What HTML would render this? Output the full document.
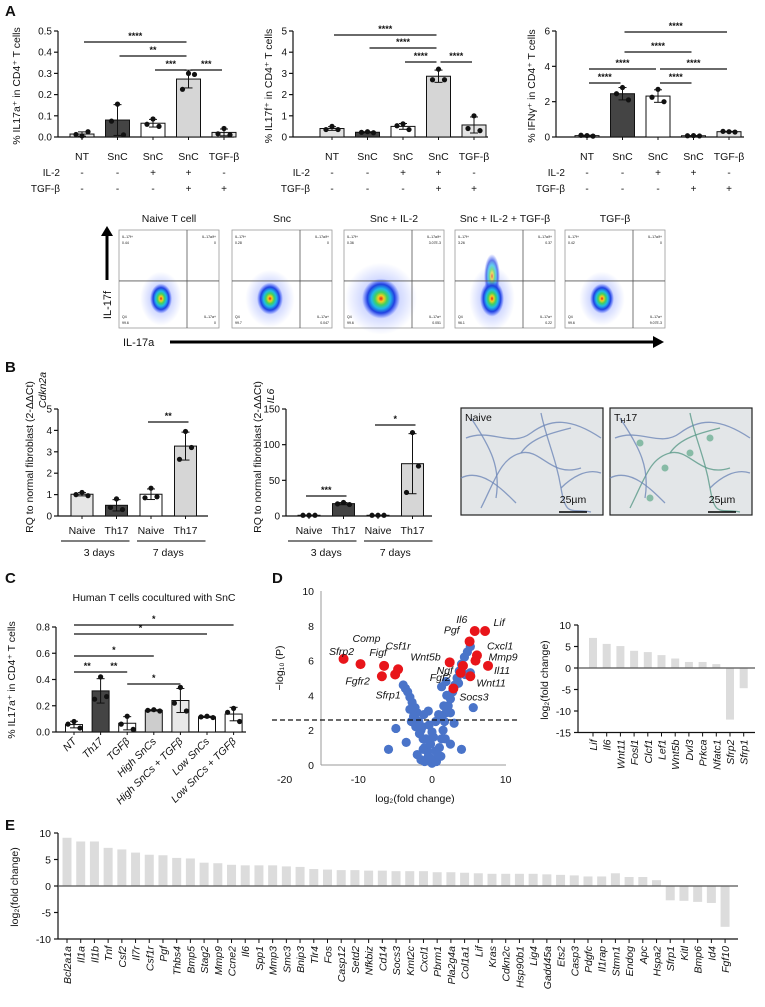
<!DOCTYPE html>
<html><head><meta charset="utf-8"><style>
body{margin:0;background:#fff}
svg{display:block;font-family:"Liberation Sans Narrow","Liberation Sans",sans-serif}
</style></head><body>
<svg id="fig" width="765" height="1007" viewBox="0 0 765 1007" xmlns="http://www.w3.org/2000/svg">
<defs>
<radialGradient id="blob"><stop offset="0" stop-color="#e0201a"/><stop offset="0.15" stop-color="#f5d020"/><stop offset="0.32" stop-color="#40d060"/><stop offset="0.5" stop-color="#20b8e8"/><stop offset="0.72" stop-color="#2040e0"/><stop offset="1" stop-color="#3050ff" stop-opacity="0"/></radialGradient>
<radialGradient id="halo"><stop offset="0" stop-color="#4060ff" stop-opacity="0.5"/><stop offset="1" stop-color="#4060ff" stop-opacity="0"/></radialGradient>
</defs>
<g id="root"></g>
</svg>
<script>
// ---------- DATA ----------
const catsA = ["NT","SnC","SnC","SnC","TGF-β"];
const il2Row = ["-","-","+","+","-"];
const tgfRow = ["-","-","-","+","+"];
const a1Reps = [[0.005,0.025,0.012],[0.155,0.01,0.075],[0.085,0.05,0.06],[0.3,0.295,0.225],[0.04,0.01,0.015]];
const a2Reps = [[0.5,0.35,0.35],[0.25,0.2,0.22],[0.62,0.35,0.53],[3.2,2.7,2.7],[1.0,0.3,0.4]];
const a3Reps = [[0.08,0.05,0.1],[2.8,2.1,2.45],[2.7,2.0,2.25],[0.08,0.06,0.07],[0.3,0.28,0.32]];
const a1Ticks = ["0.0","0.1","0.2","0.3","0.4","0.5"];
const a2Ticks = ["0","1","2","3","4","5"];
const a3Ticks = ["0","2","4","6"];
const a1Sig = [[0,3,"****"],[1,3,"**"],[2,3,"***"],[3,4,"***"]];
const a2Sig = [[0,3,"****"],[1,3,"****"],[2,3,"****"],[3,4,"****"]];
const a3Sig = [[1,4,"****"],[1,3,"****"],[0,2,"****"],[2,4,"****"],[0,1,"****"],[2,3,"****"]];
const flowTitles = ["Naive T cell","Snc","Snc + IL-2","Snc + IL-2 + TGF-β","TGF-β"];
const flowQ1 = ["0.44","0.28","0.36","3.26","0.42"];
const flowQ2 = ["0","0","3.07E-3","0.37","0"];
const flowQ3 = ["0","0.047","0.051","0.22","9.07E-3"];
const flowQ4 = ["99.6","99.7","99.6","96.1","99.6"];
const catsB = ["Naive","Th17","Naive","Th17"];
const b1Reps = [[1.1,0.95,1.0],[0.8,0.3,0.4],[1.3,0.9,0.85],[3.95,3.2,2.65]];
const b2Reps = [[1,1,1],[19,16,17],[1,1,1],[117,70,33]];
const b1Ticks = ["0","1","2","3","4","5"];
const b2Ticks = ["0","50","100","150"];
const b1Sig = [[2,3,"**"]];
const b2Sig = [[0,1,"***"],[2,3,"*"]];
const catsC = ["NT","Th17","TGFβ","High SnCs","High SnCs + TGFβ","Low SnCs","Low SnCs + TGFβ"];
const cReps = [[0.08,0.03,0.06],[0.42,0.27,0.25],[0.12,0.02,0.06],[0.17,0.16,0.165],[0.34,0.16,0.22],[0.12,0.11,0.115],[0.18,0.08,0.15]];
const cTicks = ["0.0","0.2","0.4","0.6","0.8"];
const cSig = [[0,6,"*"],[0,5,"*"],[0,3,"*"],[0,1,"**"],[1,2,"**"],[2,4,"*"]];
const volcFC = [-0.5,-1,-1.2,-1.5,-1.8,-2,-2.3,-2.7,-3,-3.3,-3.6,-3.9,-2.5,-1.7,-2.2,-3,-1.3,-0.8,-2.8,-5.9,-4.9,-3.5,-2,-1.5,-1,-0.6,-1.2,0,0.3,-0.3,0.5,-0.2,0.2,0.6,-0.4,0,0.5,-1.1,0.9,-0.5,1,1.3,1.5,1.7,1.9,2.2,2.5,2.8,3.1,3.4,3.7,4,4.4,4.8,5.2,2,1.6,1.3,2.5,3,4,5.6,1.8,1.2,0.8,2.5,3.6,4.5,5.2,1.3,1.9];
const volcP = [0.5,1,1.5,2,2.5,3,3.3,3.6,3.9,4.2,4.4,4.6,2.8,1.8,2.2,3.2,2.2,1.5,2.5,0.9,2.1,1.3,0.6,0.3,0.2,0.8,0.9,0.1,0.3,0.4,0.8,1.2,1.6,0.2,2.3,1.9,2.5,2.9,2.9,3.1,1,1.5,2,2.5,3,3.4,3.8,4.2,4.6,5,5.4,5.8,6.2,6.5,6.8,4,3.4,2.8,3,2.4,0.9,3.3,1.5,0.5,0.6,1.2,4.7,5.2,5.3,4.5,4.8];
const sigNames = ["Sfrp2","Comp","Figf","Fgfr2","Csf1r","Sfrp1","Wnt5b","Fgf2","Socs3","Ngf","Pgf","Il6","Lif","Cxcl1","Mmp9","Il11","Wnt11"];
const sigFC = [-12,-9.7,-6.5,-6.8,-4.6,-5,2.4,3.9,2.9,4.2,5.1,5.8,7.2,6.1,5.9,7.6,5.2];
const sigP = [6.1,5.8,5.7,5.1,5.5,5.2,5.9,5.3,4.4,5.7,7.1,7.7,7.7,6.3,6.0,5.7,5.1];
const volcXTicks = [-20,-10,0,10];
const volcYTicks = [0,2,4,6,8,10];
const dGenes = ["Lif","Il6","Wnt11","Fosl1","Clcf1","Lef1","Wnt5b","Dvl3","Prkca","Nfatc1","Sfrp2","Sfrp1"];
const dVals = [7,5.6,5.1,4.0,3.7,3.0,2.2,1.4,1.4,0.9,-12,-4.7];
const dTicks = [10,5,0,-5,-10,-15];
const eGenes = ["Bcl2a1a","Il1a","Il1b","Tnf","Csf2","Il7r","Csf1r","Pgf","Thbs4","Bmp5","Stag2","Mmp9","Ccne2","Il6","Spp1","Mmp3","Smc3","Bnip3","Tlr4","Fos","Casp12","Setd2","Nfkbiz","Cd14","Socs3","Kmt2c","Cxcl1","Pbrm1","Pla2g4a","Col1a1","Lif","Kras","Cdkn2c","Hsp90b1","Lig4","Gadd45a","Ets2","Casp3","Pdgfc","Il1rap","Stmn1","Endog","Apc","Hspa2","Sfrp1","Kitl","Bmp6","Id4","Fgf10"];
const eVals = [9.1,8.4,8.4,7.2,6.9,6.3,5.9,5.8,5.3,5.2,4.4,4.3,4.0,3.9,3.9,3.9,3.7,3.6,3.2,3.1,3.0,3.0,2.9,2.9,2.8,2.8,2.8,2.6,2.6,2.5,2.4,2.3,2.3,2.3,2.3,2.2,2.1,2.0,1.8,1.8,2.4,1.7,1.7,1.1,-2.7,-2.8,-3.0,-3.2,-7.7];
const eTicks = [10,5,0,-5,-10];

// ---------- HELPERS ----------
const NS="http://www.w3.org/2000/svg";
const root=document.getElementById('root');
function el(tag,attrs,parent,txt){const e=document.createElementNS(NS,tag);for(const k in attrs)e.setAttribute(k,attrs[k]);if(txt!==undefined)e.textContent=txt;(parent||root).appendChild(e);return e;}
function grp(name,parent){const g=el('g',{},parent);return g;}
function txt(g,x,y,s,size,opts){opts=opts||{};const t=el('text',{x:x,y:y,'font-size':size,'text-anchor':opts.anchor||'middle',fill:opts.fill||'#111'},g,s);if(opts.italic)t.setAttribute('font-style','italic');if(opts.bold)t.setAttribute('font-weight','bold');if(opts.rot!==undefined)t.setAttribute('transform','rotate('+opts.rot+' '+x+' '+y+')');if(opts.fam)t.setAttribute('font-family',opts.fam);return t;}
function line(g,x1,y1,x2,y2,w,c,dash){const l=el('line',{x1:x1,y1:y1,x2:x2,y2:y2,stroke:c||'#111','stroke-width':w||1},g);if(dash)l.setAttribute('stroke-dasharray',dash);return l;}
const mean=a=>a.reduce((s,v)=>s+v,0)/a.length;
const sd=a=>{const m=mean(a);return Math.sqrt(a.reduce((s,v)=>s+(v-m)*(v-m),0)/(a.length-1));};
function panelLabel(s,x,y){const t=txt(root,x,y,s,15,{anchor:'start',bold:true,fam:'"Liberation Sans",sans-serif'});}

function barChart(cfg){
  const g=grp(cfg.name);
  const ys=v=>cfg.y0-v/cfg.ymax*(cfg.y0-cfg.yTop);
  const xs=i=>cfg.xFirst+i*cfg.step;
  line(g,cfg.ax,cfg.yTop,cfg.ax,cfg.y0,1.2);
  line(g,cfg.ax,cfg.y0,cfg.axEnd,cfg.y0,1.2);
  cfg.ticks.forEach((t,i)=>{const v=i*cfg.ymax/(cfg.ticks.length-1);const y=ys(v);line(g,cfg.ax-4,y,cfg.ax,y,1.2);txt(g,cfg.ax-6,y+3.5,t,10,{anchor:'end'});});
  cfg.reps.forEach((r,i)=>{
    const m=mean(r),s=sd(r),cx=xs(i);
    const b=el('rect',{x:cx-cfg.bw/2,y:ys(m),width:cfg.bw,height:cfg.y0-ys(m),fill:cfg.colors[i],stroke:'#111','stroke-width':1},g);
    
    
    line(g,cx,ys(m+s),cx,ys(Math.max(0,m-s)),1);line(g,cx-4,ys(m+s),cx+4,ys(m+s),1);line(g,cx-4,ys(Math.max(0,m-s)),cx+4,ys(Math.max(0,m-s)),1);
    const offs=[-6,0,6];
    r.forEach((v,k)=>{const d=el('circle',{cx:cx+offs[(k+1)%3],cy:ys(v),r:2.6,fill:'#111'},g);});
    line(g,cx,cfg.y0,cx,cfg.y0+3,1);
  });
  (cfg.sig||[]).forEach((s,k)=>{
    const y=cfg.sigY[k];const x1=xs(s[0])+(cfg.sigPad||0),x2=xs(s[1])-(cfg.sigPad||0);
    line(g,x1,y,x2,y,1.2);txt(g,(x1+x2)/2,y-3,s[2],9,{bold:true});
  });
  return {g,xs,ys};
}

// ---------- PANEL A ----------
panelLabel("A",5,16);
const darkA='#444',whiteA='#fff',midA='#d6d6d6';
const aCfgs=[
 {name:'chart-il17a',ax:58,axEnd:234,xFirst:82,reps:a1Reps,ymax:0.5,ticks:a1Ticks,sig:a1Sig,sigY:[42,56,70,70],colors:['#e3e3e3',darkA,whiteA,midA,'#e3e3e3'],ylab:'% IL17a⁺ in CD4⁺ T cells',ylx:20},
 {name:'chart-il17f',ax:293,axEnd:488,xFirst:332,reps:a2Reps,ymax:5,ticks:a2Ticks,sig:a2Sig,sigY:[35,48,62,62],colors:['#e3e3e3',darkA,whiteA,midA,'#e3e3e3'],ylab:'% IL17f⁺ in CD4⁺ T cells',ylx:272},
 {name:'chart-ifng',ax:556,axEnd:744,xFirst:587,reps:a3Reps,ymax:6,ticks:a3Ticks,sig:a3Sig,sigY:[32,52,69,69,83,83],colors:['#e3e3e3',darkA,whiteA,whiteA,'#e3e3e3'],ylab:'% IFNγ⁺ in CD4⁺ T cells',ylx:535}
];
aCfgs.forEach(c=>{
  const ch=barChart({name:c.name,ax:c.ax,axEnd:c.axEnd,y0:137,yTop:31,ymax:c.ymax,ticks:c.ticks,xFirst:c.xFirst,step:35.5,bw:24,reps:c.reps,colors:c.colors,sig:c.sig,sigY:c.sigY,sigPad:2});
  const t=txt(ch.g,c.ylx,86,c.ylab,10.5,{rot:-90});
  catsA.forEach((s,i)=>{txt(ch.g,ch.xs(i),160,s,10.5);txt(ch.g,ch.xs(i),176,il2Row[i],10);txt(ch.g,ch.xs(i),192,tgfRow[i],10);});
  txt(ch.g,c.xFirst-22,176,'IL-2',10,{anchor:'end'});
  txt(ch.g,c.xFirst-22,192,'TGF-β',10,{anchor:'end'});
});

// ---------- FLOW ----------
(function(){
  const g=grp('flow-cytometry-plots');
  const px=[119,232,344,455,565];
  const blobX=[0.42,0.38,0.37,0.37,0.37], blobRX=[11,13,19,12,12], blobRY=[15,16,20,18,15], extra=[0,0,0,1,0];
  flowTitles.forEach((t,i)=>{
    const x=px[i],y=230,w=100,h=98;
    txt(g,x+w/2,222,t,10.5);
    const p=grp('flow-plot-'+i,g);
    el('rect',{x:x,y:y,width:w,height:h,fill:'#fff',stroke:'#999','stroke-width':0.8},p);
    el('ellipse',{cx:x+w*blobX[i],cy:y+h*0.7,rx:blobRX[i]*1.9,ry:blobRY[i]*1.8,fill:'url(#halo)'},p);
    if(extra[i]) el('ellipse',{cx:x+w*0.37,cy:y+h*0.47,rx:8,ry:22,fill:'url(#blob)',opacity:0.7},p);
    el('ellipse',{cx:x+w*blobX[i],cy:y+h*0.7,rx:blobRX[i],ry:blobRY[i],fill:'url(#blob)'},p);
    line(p,x+w*0.68,y,x+w*0.68,y+h,0.8,'#555');
    line(p,x,y+h*0.52,x+w,y+h*0.52,0.8,'#555');
    txt(p,x+3,y+8,'IL-17f+',3.5,{anchor:'start'});txt(p,x+3,y+14,flowQ1[i],3.5,{anchor:'start'});
    txt(p,x+w-3,y+8,'IL-17a/f+',3.5,{anchor:'end'});txt(p,x+w-3,y+14,flowQ2[i],3.5,{anchor:'end'});
    txt(p,x+3,y+h-10,'Q4',3.5,{anchor:'start'});txt(p,x+3,y+h-4,flowQ4[i],3.5,{anchor:'start'});
    txt(p,x+w-3,y+h-10,'IL-17a+',3.5,{anchor:'end'});txt(p,x+w-3,y+h-4,flowQ3[i],3.5,{anchor:'end'});
  });
  line(g,107,280,107,234,3,'#000');el('polygon',{points:'101,236 113,236 107,226',fill:'#000'},g);
  txt(g,111,305,'IL-17f',11,{rot:-90});
  txt(g,123,346,'IL-17a',11,{anchor:'start'});
  line(g,170,342,655,342,3,'#000');el('polygon',{points:'653,336 653,348 664,342',fill:'#000'},g);
})();

// ---------- PANEL B ----------
panelLabel("B",5,372);
[
 {name:'chart-cdkn2a',ax:58,axEnd:208,xFirst:82,reps:b1Reps,ymax:5,ticks:b1Ticks,sig:b1Sig,sigY:[422],gene:'Cdkn2a',yl1:46,yl2:33,gy:390},
 {name:'chart-il6',ax:286,axEnd:432,xFirst:309,reps:b2Reps,ymax:150,ticks:b2Ticks,sig:b2Sig,sigY:[496,425],gene:'IL6',yl1:274,yl2:261,gy:396}
].forEach(c=>{
  const ch=barChart({name:c.name,ax:c.ax,axEnd:c.axEnd,y0:516,yTop:409,ymax:c.ymax,ticks:c.ticks,xFirst:c.xFirst,step:34.5,bw:22,reps:c.reps,colors:['#e6e6e6','#444','#fff','#d6d6d6'],sig:c.sig,sigY:c.sigY,sigPad:-3});
  txt(ch.g,c.yl1,c.gy,c.gene,10.5,{rot:-90,italic:true});
  txt(ch.g,c.yl2,457,'RQ to normal fibroblast (2-ΔΔCt)',10.5,{rot:-90});
  catsB.forEach((s,i)=>txt(ch.g,ch.xs(i),534,s,10.5));
  line(ch.g,ch.xs(0)-21,541,ch.xs(1)+13,541,1.5,'#555');
  line(ch.g,ch.xs(2)-14,541,ch.xs(3)+20,541,1.5,'#555');
  txt(ch.g,(ch.xs(0)+ch.xs(1))/2,556,'3 days',10.5);
  txt(ch.g,(ch.xs(2)+ch.xs(3))/2,556,'7 days',10.5);
});
(function(){
  const g=grp('micrographs');
  const boxes=[[461,'Naive',0],[610,'TH17',1]];
  const paths=["M5,30 C30,20 50,40 70,25 S110,10 140,30","M20,100 C35,70 40,50 60,45 S90,70 120,60","M0,70 C20,60 40,80 55,95","M80,5 C85,30 95,50 100,80 S110,100 130,104","M10,10 C30,40 40,60 35,90","M60,45 C70,30 90,25 110,20","M100,80 C110,70 125,60 140,65"];
  boxes.forEach(b=>{
    const x=b[0],y=408,w=142,h=107;
    const p=grp('micrograph-'+b[1].toLowerCase(),g);
    el('rect',{x:x,y:y,width:w,height:h,fill:'#e3e6e8',stroke:'#222','stroke-width':1.2},p);
    paths.forEach((d,k)=>{el('path',{d:d,transform:'translate('+x+','+y+')',fill:'none',stroke:(b[2]&&k%2)?'#5a9a88':'#6f88b8','stroke-width':1.3,opacity:0.8},p);});
    if(b[2]){[[30,35],[55,60],[80,45],[40,90],[100,30]].forEach(c=>el('circle',{cx:x+c[0],cy:y+c[1],r:3.5,fill:'#5fa88a',opacity:0.7},p));}
    if(b[2]){const t=txt(p,x+4,y+13,'T',10.5,{anchor:'start'});el('tspan',{'font-size':7,dy:2},t,'H');el('tspan',{'font-size':10.5,dy:-2},t,'17');}
    else txt(p,x+4,y+13,b[1],10.5,{anchor:'start'});
    txt(p,x+w-30,y+h-12,'25µm',10.5);
    line(p,x+w-44,y+h-3,x+w-16,y+h-3,1.5,'#000');
  });
})();

// ---------- PANEL C ----------
panelLabel("C",5,583);
(function(){
  const ch=barChart({name:'chart-human-t-cells',ax:56,axEnd:246,y0:732,yTop:627,ymax:0.8,ticks:cTicks,xFirst:74,step:26.6,bw:17,reps:cReps,colors:['#fff','#444','#fff','#cdcdcd','#e8e8e8','#fff','#fff'],sig:cSig,sigY:[625,634,656,672,672,684],sigPad:0});
  txt(ch.g,154,601,'Human T cells cocultured with SnC',10.5);
  txt(ch.g,15,680,'% IL17a⁺ in CD4⁺ T cells',10.5,{rot:-90});
  catsC.forEach((s,i)=>txt(ch.g,ch.xs(i)+3,742,s,10.5,{anchor:'end',italic:true,rot:-45}));
})();

// ---------- PANEL D volcano ----------
panelLabel("D",272,583);
(function(){
  const g=grp('volcano-plot');
  const X=v=>432+v*7.37, Y=v=>765-v*17.4;
  line(g,321,Y(10),321,Y(0),1,'#999');
  line(g,321,Y(0),506,Y(0),1,'#999');
  volcYTicks.forEach(t=>txt(g,314,Y(t)+4,String(t),10.5,{anchor:'end'}));
  volcXTicks.forEach(t=>txt(g,X(t),783,String(t),10.5));
  txt(g,415,802,'log₂(fold change)',10.5);
  txt(g,283,668,'−log₁₀ (P)',10.5,{rot:-90});
  volcFC.forEach((v,i)=>{const c=el('circle',{cx:X(v),cy:Y(volcP[i]),r:4.6,fill:'#4a74c9'},g);});
  line(g,272,720,520,720,1.3,'#111','5,3');
  const lblOff=[[-2,-8,'middle'],[6,-26,'middle'],[-6,-14,'middle'],[-12,4,'end'],[0,-24,'middle'],[-7,20,'middle'],[-9,-6,'end'],[-10,4,'end'],[6,8,'start'],[-10,4,'end'],[-10,-12,'end'],[-13,-12,'middle'],[14,-9,'middle'],[10,-10,'start'],[13,-4,'start'],[6,4,'start'],[6,6,'start']];
  sigFC.forEach((v,i)=>{
    const cx=X(v),cy=Y(sigP[i]);
    const c=el('circle',{cx:cx,cy:cy,r:5,fill:'#e8151a'},g);
    const o=lblOff[i];txt(g,cx+o[0],cy+o[1]+4,sigNames[i],10.5,{anchor:o[2],italic:true});
  });
})();
(function(){
  const g=grp('chart-wnt-genes');
  const Y=v=>668-v*4.3, X=i=>593+i*13.7;
  dVals.forEach((v,i)=>{const r=el('rect',{x:X(i)-4,y:Math.min(Y(v),Y(0)),width:8,height:Math.abs(Y(v)-Y(0)),fill:'#dcdcdc'},g);});
  line(g,578,Y(10),578,Y(-15),1.2);
  line(g,578,Y(0),755,Y(0),1.2,'#555');
  line(g,578,Y(-15),755,Y(-15),1.2);
  dTicks.forEach(t=>{line(g,574,Y(t),578,Y(t),1.2);txt(g,571,Y(t)+4,String(t),10.5,{anchor:'end'});});
  dGenes.forEach((s,i)=>{line(g,X(i),Y(-15),X(i),Y(-15)+4,1);txt(g,X(i)+4,Y(-15)+7,s,10.5,{anchor:'end',italic:true,rot:-90});});
  txt(g,548,680,'log₂(fold change)',10.5,{rot:-90});
})();

// ---------- PANEL E ----------
panelLabel("E",5,830);
(function(){
  const g=grp('chart-gene-fold-change');
  const Y=v=>886-v*5.3, X=i=>67+i*13.71;
  eVals.forEach((v,i)=>{const r=el('rect',{x:X(i)-4.5,y:Math.min(Y(v),Y(0)),width:9,height:Math.abs(Y(v)-Y(0)),fill:'#dcdcdc'},g);});
  line(g,58,Y(10),58,Y(-10),1.2);
  line(g,58,Y(0),738,Y(0),1.2,'#555');
  line(g,58,Y(-10),738,Y(-10),1.2);
  eTicks.forEach(t=>{line(g,54,Y(t),58,Y(t),1.2);txt(g,51,Y(t)+4,String(t),10.5,{anchor:'end'});});
  eGenes.forEach((s,i)=>{line(g,X(i),Y(-10),X(i),Y(-10)+4,1);txt(g,X(i)+4,Y(-10)+7,s,10.5,{anchor:'end',italic:true,rot:-90});});
  txt(g,18,887,'log₂(fold change)',10.5,{rot:-90});
})();
</script>
</body></html>
